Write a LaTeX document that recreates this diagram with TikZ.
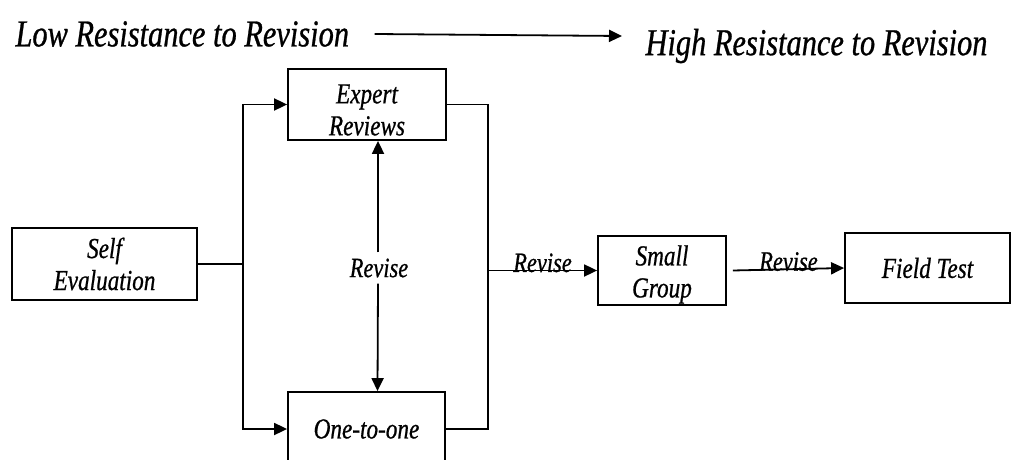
\documentclass[tikz,border=0pt]{standalone}
\usepackage{fontspec}
\setmainfont{Liberation Serif}
\newfontfamily\condit{Liberation Serif}[FakeStretch=0.8,FakeBold=0.7,ItalicFeatures={FakeStretch=0.8,FakeBold=0.7}]
\usetikzlibrary{arrows.meta,positioning}
\begin{document}
\begin{tikzpicture}[x=1pt,y=-1pt,
  lw/.style={line width=1.8pt},
  arr/.style={lw,-{Triangle[length=13pt,width=12pt]}},
  box/.style={draw,lw,inner sep=0pt,align=center,font=\condit\itshape\fontsize{29}{32}\selectfont},
  lbl/.style={font=\condit\itshape\fontsize{28}{28}\selectfont},
  ttl/.style={font=\condit\itshape\fontsize{38}{38}\selectfont}]
\useasboundingbox (0,0) rectangle (1012,460);
\clip (0,0) rectangle (1012,460);
% title
\node[ttl,anchor=west] (low) at (12,34) {Low Resistance to Revision};
\node[ttl,anchor=west] (high) at (642,46) {High Resistance to Revision};
\draw[arr] (low.east)++(22,0) coordinate (ta) -- (622,36) coordinate (tb);
% boxes
\node[box,minimum width=185pt,minimum height=72pt] (self) at (104.5,264) {Self\\Evaluation};
\node[box,minimum width=158pt,minimum height=71pt] (expert) at (367,104.5) {\rule{0pt}{30pt}Expert\\Reviews};
\node[box,minimum width=157pt,minimum height=74pt] (one) at (366.5,429) {One-to-one};
\node[box,minimum width=128pt,minimum height=69pt] (small) at (662,270.5) {\rule{0pt}{28pt}Small\\Group};
\node[box,minimum width=165pt,minimum height=70pt] (field) at (927.5,268) {Field Test};
% left split
\coordinate (jl) at (243,264);
\draw[lw] (self.east) -- (jl);
\draw[arr] (jl) |- (expert.west);
\draw[arr] (jl) |- (one.west);
% right join
\coordinate (jr) at (488,270.5);
\draw[lw] (expert.east) -| (jr) |- (one.east);
\draw[arr] (jr) -- node[lbl,above=-6pt] (r1) {Revise} (small.west);
\draw[arr] ([xshift=6pt]small.east) -- node[lbl,above=-6pt] (r2) {Revise} (field.west);
% revise between expert and one-to-one
\node[lbl,fill=white,inner ysep=6pt] (rev) at (379,268) {Revise};
\draw[arr] (rev.north -| 378,0) -- ([xshift=11pt]expert.south);
\draw[arr] (rev.south -| 378,0) -- ([xshift=11pt]one.north);
\end{tikzpicture}
\end{document}
